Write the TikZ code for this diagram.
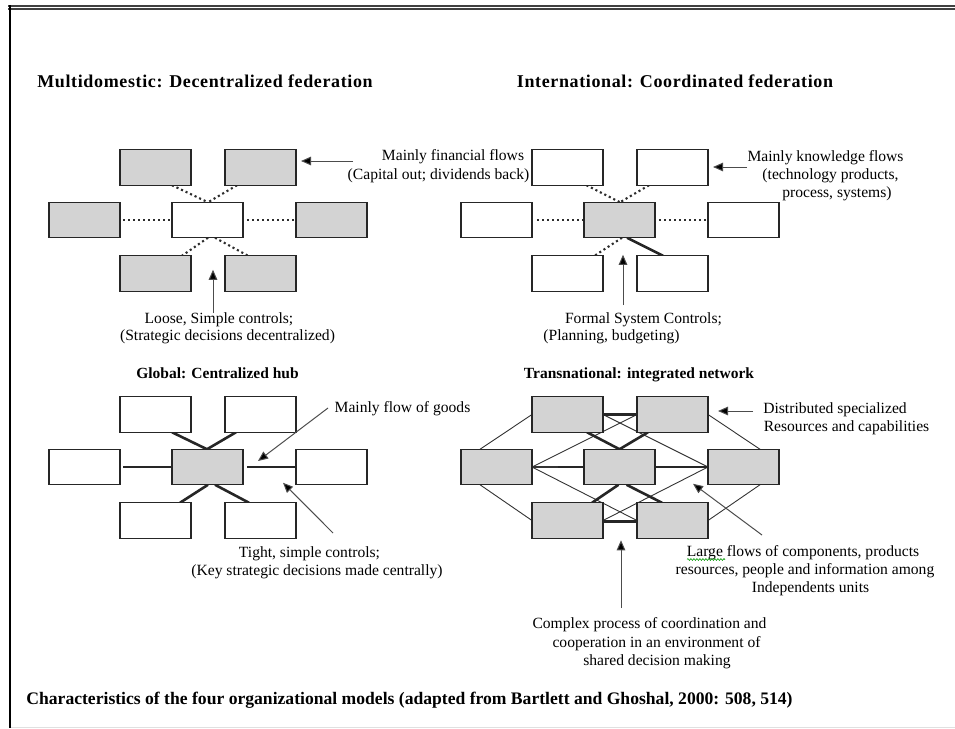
\documentclass[tikz,border=0pt]{standalone}
\usepackage{fontspec}
\setmainfont{Liberation Serif}
\usetikzlibrary{arrows.meta,backgrounds,decorations.pathmorphing,calc}
\definecolor{boxgray}{RGB}{211,211,211}
\definecolor{linegray}{RGB}{45,45,45}
\newcommand{\unitset}[4]{%
  \begin{scope}[shift={#2}]
    \node[#3] (#1-tl) at (-52,-52.5) {};
    \node[#3] (#1-tr) at (53,-52.5) {};
    \node[#3] (#1-ml) at (-123,0) {};
    \node[#4] (#1-c)  at (0,0) {};
    \node[#3] (#1-mr) at (124,0) {};
    \node[#3] (#1-bl) at (-52,53.5) {};
    \node[#3] (#1-br) at (53,53.5) {};
  \end{scope}}
\begin{document}
\begin{tikzpicture}[x=1pt,y=-1pt,
  unit/.style={rectangle,draw=black!85,line width=1.1pt,minimum width=71pt,minimum height=35.5pt,inner sep=0pt,outer sep=0pt},
  gbox/.style={unit,fill=boxgray},
  wbox/.style={unit,fill=white},
  dotline/.style={draw=linegray,line width=2.1pt,dash pattern=on 2.1pt off 2.9pt},
  thickline/.style={draw=black!85,line width=2.6pt},
  thinline/.style={draw=black!80,line width=0.9pt},
  pointer/.style={draw=black!70,line width=1pt,-{Triangle[length=10pt,width=8.5pt,fill=black]}},
  body/.style={font=\fontsize{15.6}{18}\selectfont,inner sep=0pt,anchor=base},
  headbig/.style={font=\fontsize{18}{21}\selectfont\bfseries\addfontfeatures{LetterSpace=3.5},inner sep=0pt,anchor=base},
  headsmall/.style={font=\fontsize{15.5}{18}\selectfont\bfseries,inner sep=0pt,anchor=base},
  caption/.style={font=\fontsize{17.6}{20}\selectfont\bfseries,inner sep=0pt,anchor=base}]
\useasboundingbox (0,0) rectangle (955,728);
% frame
\draw[black!75,line width=1.6pt] (8,6.2) -- (955,6.2);
\draw[black!75,line width=1.6pt] (8,8.9) -- (955,8.9);
\draw[black,line width=2.4pt] (9.7,5.4) -- (9.7,728);
\draw[black!12,line width=1pt] (11,727.3) -- (955,727.3);

% boxes
\unitset{M}{(207.5,220)}{gbox}{wbox}
\unitset{I}{(619.5,220)}{wbox}{gbox}
\unitset{G}{(207.5,467)}{wbox}{gbox}
\unitset{T}{(619.5,467)}{gbox}{gbox}

\begin{pgfonlayer}{background}
% Multidomestic
\draw[dotline] ([xshift=-19pt]M-tl.south east) -- ([xshift=0.5pt]M-c.north);
\draw[dotline] ([xshift=12pt]M-tr.south west) -- ([xshift=0.5pt]M-c.north);
\draw[dotline] ([xshift=3pt]M-ml.east) -- (M-c.west);
\draw[dotline] ([xshift=4pt]M-c.east) -- (M-mr.west);
\draw[dotline] ([xshift=0.5pt]M-c.south) -- ([xshift=-9pt]M-bl.north east);
\draw[dotline] ([xshift=7.5pt]M-c.south) -- ([xshift=23pt]M-br.north west);
% International
\draw[dotline] ([xshift=-16.5pt]I-tl.south east) -- ([xshift=0.5pt]I-c.north);
\draw[dotline] ([xshift=12pt]I-tr.south west) -- ([xshift=0.5pt]I-c.north);
\draw[dotline] ([xshift=5pt]I-ml.east) -- (I-c.west);
\draw[dotline] ([xshift=4pt]I-c.east) -- (I-mr.west);
\draw[dotline] ([xshift=2.5pt]I-c.south) -- ([xshift=-8.5pt]I-bl.north east);
\draw[thickline] ([xshift=7.5pt]I-c.south) -- ([xshift=26pt]I-br.north west);
% Global
\draw[thickline] ([xshift=-19pt]G-tl.south east) -- ([xshift=-0.5pt]G-c.north);
\draw[thickline] ([xshift=11pt]G-tr.south west) -- ([xshift=-0.5pt]G-c.north);
\draw[thickline] ([xshift=3pt]G-ml.east) -- (G-c.west);
\draw[thickline] ([xshift=4pt]G-c.east) -- (G-mr.west);
\draw[thickline] ([xshift=0.5pt]G-c.south) -- ([xshift=-11pt]G-bl.north east);
\draw[thickline] ([xshift=7.5pt]G-c.south) -- ([xshift=24pt]G-br.north west);
% Transnational
\draw[thinline] ([xshift=-16.5pt]T-ml.north) -- (T-tl.west);
\draw[thinline] ([xshift=-16.5pt]T-ml.south) -- (T-bl.west);
\draw[thinline] (T-tr.east) -- ([xshift=16.5pt]T-mr.north);
\draw[thinline] (T-br.east) -- ([xshift=16.5pt]T-mr.south);
\draw[thinline] (T-ml.east) -- (T-tr.west);
\draw[thinline] (T-ml.east) -- (T-br.west);
\draw[thinline] (T-tl.east) -- (T-mr.west);
\draw[thinline] (T-bl.east) -- (T-mr.west);
\draw[thickline] (T-tl.east) -- (T-tr.west);
\draw[thickline] ([yshift=-1.2pt]T-bl.east) -- ([yshift=-1.2pt]T-br.west);
\draw[thickline] ([xshift=26pt]T-ml.east) -- (T-c.west);
\draw[thinline,line width=1.8pt] (T-ml.east) -- ([xshift=26pt]T-ml.east);
\draw[thickline] (T-c.east) -- (T-mr.west);
\draw[thickline] ([xshift=-16pt]T-tl.south east) -- (T-c.north);
\draw[thickline] ([xshift=11pt]T-tr.south west) -- (T-c.north);
\draw[thickline] ([xshift=-1pt]T-c.south) -- ([xshift=-11pt]T-bl.north east);
\draw[thickline] ([xshift=7pt]T-c.south) -- ([xshift=25pt]T-br.north west);
\end{pgfonlayer}

% headings
\node[headbig] (hM) at (205,87) {Multidomestic: Decentralized federation};
\node[headbig] (hI) at (675,87) {International: Coordinated federation};
\node[headsmall] (hG) at (217.5,378) {Global: Centralized hub};
\node[headsmall] (hT) at (639,378) {Transnational: integrated network};

% Multidomestic notes
\node[body] (tM1) at (453,160) {Mainly financial flows};
\node[body] (tM2) at (438.5,179) {(Capital out; dividends back)};
\node[body] (tM3) at (219,323) {Loose, Simple controls;};
\node[body] (tM4) at (227.5,340) {(Strategic decisions decentralized)};
\coordinate (aM1) at (353,161);
\draw[pointer] (aM1) -- ([xshift=5pt,yshift=6.5pt]M-tr.east);
\coordinate (aM2) at (213,313);
\draw[pointer] (aM2) -- ([xshift=5.5pt,yshift=-32pt]M-c.south);

% International notes
\node[body] (tI1) at (825.5,161) {Mainly knowledge flows};
\node[body] (tI2) at (830.5,179) {(technology products,};
\node[body] (tI3) at (837,197) {process, systems)};
\node[body] (tI4) at (643.5,323) {Formal System Controls;};
\node[body] (tI5) at (611.5,340) {(Planning, budgeting)};
\coordinate (aI1) at (747,167);
\draw[pointer] (aI1) -- ([xshift=5pt,yshift=0.5pt]I-tr.east);
\coordinate (aI2) at (623,305);
\draw[pointer] (aI2) -- ([xshift=3.5pt,yshift=-17pt]I-c.south);

% Global notes
\node[body] (tG1) at (402.5,412) {Mainly flow of goods};
\node[body] (tG2) at (309.5,557) {Tight, simple controls;};
\node[body] (tG3) at (317,575) {(Key strategic decisions made centrally)};
\coordinate (aG1) at (328,408);
\draw[pointer] (aG1) -- ([xshift=15pt,yshift=6pt]G-c.east);
\coordinate (aG2) at (333,533);
\draw[pointer] (aG2) -- ([xshift=40pt,yshift=2pt]G-c.south east);

% Transnational notes
\node[body] (tT1) at (835,413) {Distributed specialized};
\node[body] (tT2) at (846.5,431) {Resources and capabilities};
\node[body] (tT3) at (803,556) {Large flows of components, products};
\node[body] (tT4) at (805,574) {resources, people and information among};
\node[body] (tT5) at (810.5,592) {Independents units};
\node[body] (tT6) at (649.5,628) {Complex process of coordination and};
\node[body] (tT7) at (656.5,647) {cooperation in an environment of};
\node[body] (tT8) at (657,665) {shared decision making};
\coordinate (wv1) at (687,559.5);
\coordinate (wv2) at (725,559.5);
\draw[green!60!black,line width=0.6pt,decorate,decoration={snake,amplitude=0.9pt,segment length=3pt}] (wv1) -- (wv2);
\coordinate (aT1) at (753,411);
\draw[pointer] (aT1) -- ([xshift=10pt,yshift=3.5pt]T-tr.east);
\coordinate (aT2) at (762,535);
\draw[pointer] (aT2) -- ([xshift=-15pt,yshift=1pt]T-mr.south west);
\coordinate (aT3) at (621,608);
\draw[pointer] (aT3) -- ($(T-bl.south east)!0.5!(T-br.south west)+(1,2)$);

% caption
\node[caption] (cap) at (409.5,704) {Characteristics of the four organizational models (adapted from Bartlett and Ghoshal, 2000: 508, 514)};
\end{tikzpicture}
\end{document}
